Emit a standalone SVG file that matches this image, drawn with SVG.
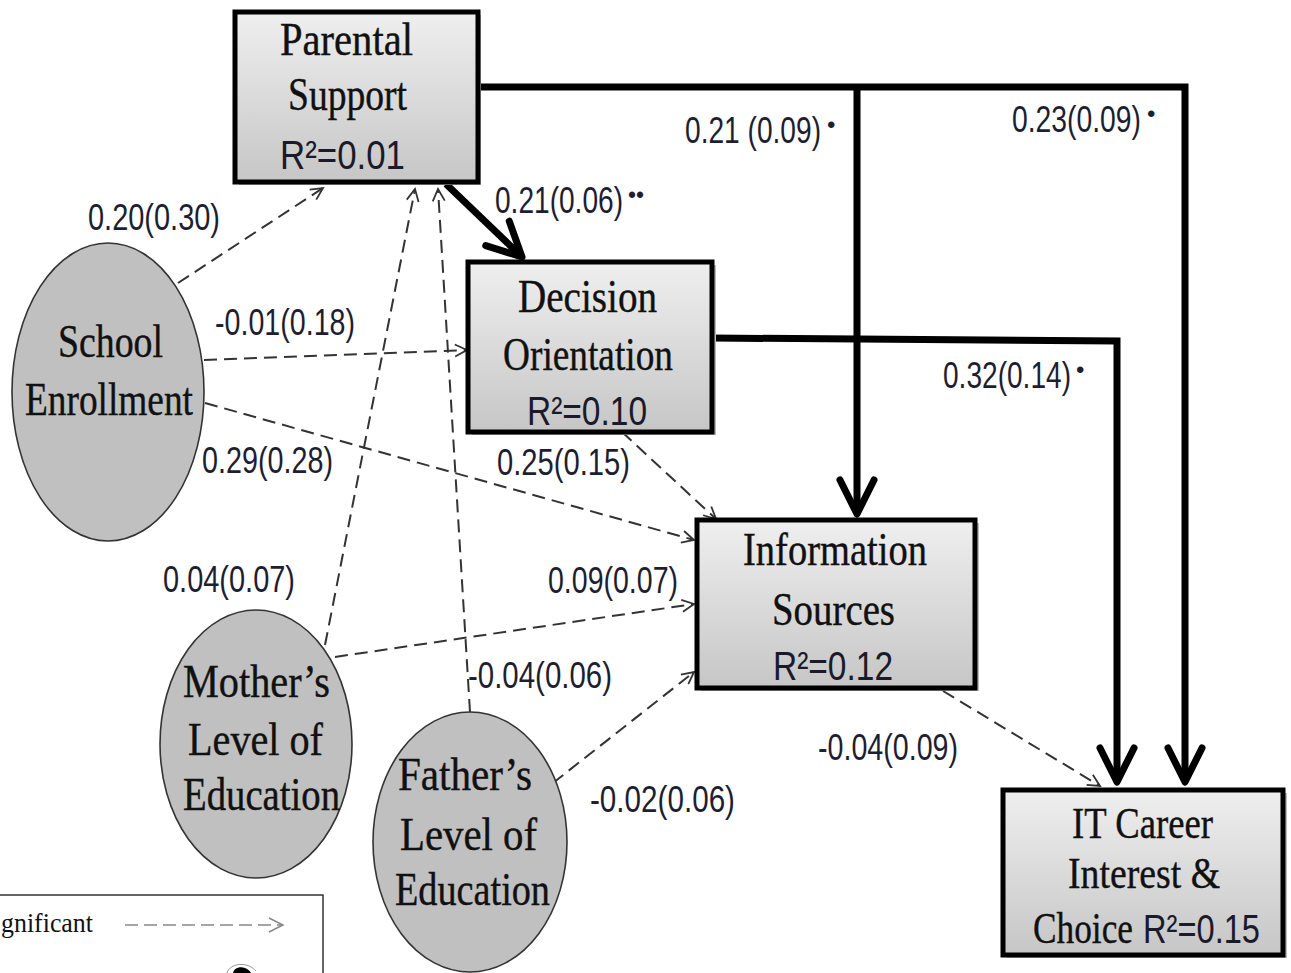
<svg xmlns="http://www.w3.org/2000/svg" width="1291" height="973" viewBox="0 0 1291 973">
<defs>
<linearGradient id="boxg" x1="0" y1="0" x2="0" y2="1">
<stop offset="0" stop-color="#efefef"/>
<stop offset="1" stop-color="#c6c6c6"/>
</linearGradient>
<marker id="thick" markerUnits="userSpaceOnUse" viewBox="-42 -24 48 48" refX="0" refY="0" markerWidth="48" markerHeight="48" orient="auto">
<path d="M-34,-17 L0,0 L-34,17" fill="none" stroke="#000" stroke-width="7" stroke-linecap="round" stroke-linejoin="round"/>
</marker>
<marker id="dash" markerUnits="userSpaceOnUse" viewBox="-16 -10 20 20" refX="0" refY="0" markerWidth="20" markerHeight="20" orient="auto">
<path d="M-12,-6 L0,0 L-12,6" fill="none" stroke="#333" stroke-width="1.8"/>
</marker>
<marker id="legdash" markerUnits="userSpaceOnUse" viewBox="-16 -10 20 20" refX="0" refY="0" markerWidth="20" markerHeight="20" orient="auto">
<path d="M-14,-7 L0,0 L-14,7" fill="none" stroke="#888" stroke-width="1.5"/>
</marker>
</defs>
<style>
.box{fill:url(#boxg);stroke:#000;stroke-width:5}
.shadow{fill:#bdbdbd}
.ell{fill:#c0c0c0;stroke:#333;stroke-width:1.6}
.n{font-family:"Liberation Serif",serif;font-size:47px;fill:#111;stroke:#111;stroke-width:0.4}
.n2{font-size:45px}
.r{font-family:"Liberation Sans",sans-serif;font-size:40px;fill:#1a1a2a}
.l{font-family:"Liberation Sans",sans-serif;font-size:36px;fill:#1e1e30}
.b{font-family:"Liberation Sans",sans-serif;font-size:24px;fill:#1e1e30}
.thick{fill:none;stroke:#000;stroke-width:7}
.dsh{fill:none;stroke:#333;stroke-width:2;stroke-dasharray:13 7}
</style>
<rect width="1291" height="973" fill="#fff"/>

<g id="legend">
<path d="M-2,895 H323 V973" fill="none" stroke="#333" stroke-width="1.5"/>
<text x="1" y="932" textLength="92" lengthAdjust="spacingAndGlyphs" style="font-family:'Liberation Serif',serif;font-size:27px;fill:#111">gnificant</text>
<line x1="125" y1="925" x2="283" y2="925" stroke="#888" stroke-width="1.5" stroke-dasharray="13 6" marker-end="url(#legdash)"/>
<path d="M227,973 C229,966 238,963 246,965 C251,966 254,969 256,971" fill="none" stroke="#999" stroke-width="1"/>
<path d="M233,973 C234,968 240,966 245,968 C248,969 250,971 251,973 Z" fill="#000"/>
</g>

<g id="connectors">
<path class="thick" d="M478,87 H1185 V782" marker-end="url(#thick)"/>
<path class="thick" d="M857,87 V514" marker-end="url(#thick)"/>
<path class="thick" d="M712,338 L1117,341 V782" marker-end="url(#thick)"/>
<path class="thick" d="M446,184 L522,257" marker-end="url(#thick)"/>
<path class="dsh" d="M178,283 L323,188" marker-end="url(#dash)"/>
<path class="dsh" d="M204,360 L467,350" marker-end="url(#dash)"/>
<path class="dsh" d="M205,403 L694,540" marker-end="url(#dash)"/>
<path class="dsh" d="M622,432 L716,519" marker-end="url(#dash)"/>
<path class="dsh" d="M325,645 L415,189" marker-end="url(#dash)"/>
<path class="dsh" d="M470,712 L438,189" marker-end="url(#dash)"/>
<path class="dsh" d="M335,657 L694,604" marker-end="url(#dash)"/>
<path class="dsh" d="M553,783 L694,672" marker-end="url(#dash)"/>
<path class="dsh" d="M943,691 L1100,786" marker-end="url(#dash)"/>
</g>

<g id="labels">
<text class="l" x="88" y="230" textLength="132" lengthAdjust="spacingAndGlyphs">0.20(0.30)</text>
<text class="l" x="215" y="335" textLength="140" lengthAdjust="spacingAndGlyphs">-0.01(0.18)</text>
<text class="l" x="202" y="473" textLength="131" lengthAdjust="spacingAndGlyphs">0.29(0.28)</text>
<text class="l" x="495" y="213" textLength="128" lengthAdjust="spacingAndGlyphs">0.21(0.06)</text>
<text class="b" x="628" y="203" textLength="16" lengthAdjust="spacingAndGlyphs">••</text>
<text class="l" x="685" y="143" textLength="136" lengthAdjust="spacingAndGlyphs">0.21 (0.09)</text>
<text class="b" x="827" y="133">•</text>
<text class="l" x="1012" y="132" textLength="129" lengthAdjust="spacingAndGlyphs">0.23(0.09)</text>
<text class="b" x="1147" y="122">•</text>
<text class="l" x="943" y="388" textLength="128" lengthAdjust="spacingAndGlyphs">0.32(0.14)</text>
<text class="b" x="1076" y="378">•</text>
<text class="l" x="497" y="475" textLength="133" lengthAdjust="spacingAndGlyphs">0.25(0.15)</text>
<text class="l" x="163" y="592" textLength="132" lengthAdjust="spacingAndGlyphs">0.04(0.07)</text>
<text class="l" x="548" y="593" textLength="130" lengthAdjust="spacingAndGlyphs">0.09(0.07)</text>
<text class="l" x="468" y="688" textLength="144" lengthAdjust="spacingAndGlyphs">-0.04(0.06)</text>
<text class="l" x="590" y="812" textLength="145" lengthAdjust="spacingAndGlyphs">-0.02(0.06)</text>
<text class="l" x="818" y="760" textLength="140" lengthAdjust="spacingAndGlyphs">-0.04(0.09)</text>
</g>

<g id="parental">
<rect class="shadow" x="239" y="15" width="242" height="170"/>
<rect class="box" x="235" y="12" width="243" height="170"/>
<text class="n" x="280" y="55" textLength="133" lengthAdjust="spacingAndGlyphs">Parental</text>
<text class="n" x="288" y="110" textLength="119" lengthAdjust="spacingAndGlyphs">Support</text>
<text class="r" x="280" y="169" textLength="125" lengthAdjust="spacingAndGlyphs">R²=0.01</text>
</g>

<g id="decision">
<rect class="shadow" x="472" y="265" width="244" height="170"/>
<rect class="box" x="468" y="262" width="244" height="170"/>
<text class="n" x="518" y="312" textLength="139" lengthAdjust="spacingAndGlyphs">Decision</text>
<text class="n" x="503" y="370" textLength="170" lengthAdjust="spacingAndGlyphs">Orientation</text>
<text class="r" x="527" y="425" textLength="120" lengthAdjust="spacingAndGlyphs">R²=0.10</text>
</g>

<g id="information">
<rect class="shadow" x="701" y="523" width="278" height="168"/>
<rect class="box" x="697" y="520" width="278" height="168"/>
<text class="n" x="743" y="565" textLength="184" lengthAdjust="spacingAndGlyphs">Information</text>
<text class="n" x="772" y="625" textLength="123" lengthAdjust="spacingAndGlyphs">Sources</text>
<text class="r" x="773" y="680" textLength="120" lengthAdjust="spacingAndGlyphs">R²=0.12</text>
</g>

<g id="itcareer">
<rect class="shadow" x="1007" y="793" width="280" height="165"/>
<rect class="box" x="1003" y="790" width="280" height="165"/>
<text class="n n2" x="1072" y="838" textLength="141" lengthAdjust="spacingAndGlyphs">IT Career</text>
<text class="n n2" x="1068" y="888" textLength="152" lengthAdjust="spacingAndGlyphs">Interest &amp;</text>
<text class="n n2" x="1033" y="943" textLength="100" lengthAdjust="spacingAndGlyphs">Choice</text>
<text class="r" x="1143" y="943" textLength="117" lengthAdjust="spacingAndGlyphs">R²=0.15</text>
</g>

<g id="school">
<ellipse class="ell" cx="108" cy="392" rx="96" ry="149"/>
<text class="n" x="58" y="357" textLength="105" lengthAdjust="spacingAndGlyphs">School</text>
<text class="n" x="25" y="415" textLength="168" lengthAdjust="spacingAndGlyphs">Enrollment</text>
</g>

<g id="mother">
<ellipse class="ell" cx="256" cy="744" rx="96" ry="134"/>
<text class="n" x="183" y="697" textLength="147" lengthAdjust="spacingAndGlyphs">Mother’s</text>
<text class="n" x="188" y="755" textLength="135" lengthAdjust="spacingAndGlyphs">Level of</text>
<text class="n" x="183" y="810" textLength="157" lengthAdjust="spacingAndGlyphs">Education</text>
</g>

<g id="father">
<ellipse class="ell" cx="470" cy="842" rx="97" ry="130"/>
<text class="n" x="398" y="790" textLength="134" lengthAdjust="spacingAndGlyphs">Father’s</text>
<text class="n" x="400" y="850" textLength="137" lengthAdjust="spacingAndGlyphs">Level of</text>
<text class="n" x="395" y="905" textLength="155" lengthAdjust="spacingAndGlyphs">Education</text>
</g>
</svg>
